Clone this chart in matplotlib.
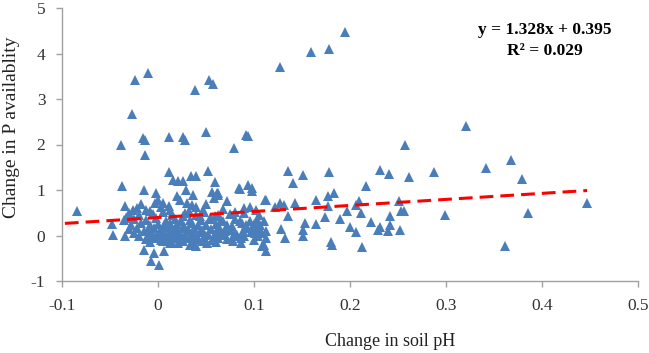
import matplotlib
matplotlib.use('Agg')
import matplotlib.pyplot as plt

plt.rcParams['font.family'] = ['Liberation Serif', 'DejaVu Serif']
plt.rcParams['axes.unicode_minus'] = False

# scattered points away from the dense cluster
outer_x = [-0.084, -0.039, -0.027, -0.024, -0.010, -0.016, -0.014, -0.014, 0.011, 0.026,
           0.028, 0.039, 0.050, 0.053, 0.057, 0.079, 0.092, 0.094, 0.127, 0.159,
           0.178, 0.195, 0.321, 0.257, 0.368, 0.342, 0.231, 0.241, 0.261, 0.287,
           0.178, 0.379, 0.135, 0.151, 0.011, 0.052, 0.016, 0.021, 0.026, 0.034,
           0.040, 0.059, 0.141, 0.217, -0.037, -0.015, 0.085, 0.094, 0.098, 0.056,
           0.063, 0.177, 0.183, 0.072, 0.112, 0.165, 0.209, 0.251, 0.096, 0.122,
           0.127, 0.131, 0.143, 0.177, 0.206, 0.197, 0.211, 0.253, 0.256, 0.135,
           0.174, 0.190, 0.242, 0.299, 0.385, 0.447, 0.153, 0.165, 0.222, 0.242,
           0.128, 0.151, 0.200, 0.231, 0.229, 0.240, 0.252, 0.206, 0.132, 0.151,
           0.180, 0.181, 0.212, 0.361, 0.112, 0.108, 0.113, 0.086]
outer_y = [0.53, 2.00, 2.67, 3.41, 3.57, 2.15, 2.10, 1.77, 2.17, 2.17,
           2.10, 3.20, 2.28, 3.41, 3.33, 1.92, 2.21, 2.18, 3.71, 4.04,
           4.10, 4.47, 2.40, 1.98, 1.66, 1.48, 1.45, 1.35, 1.29, 1.39,
           1.40, 1.25, 1.41, 1.32, 1.39, 1.42, 1.22, 1.20, 1.19, 1.30,
           1.31, 1.17, 1.15, 1.08, 1.08, 0.99, 1.02, 1.11, 1.04, 0.95,
           0.93, 0.86, 0.93, 0.75, 0.78, 0.77, 0.75, 0.75, 0.62, 0.62,
           0.71, 0.67, 0.71, 0.64, 0.67, 0.53, 0.49, 0.54, 0.54, 0.42,
           0.40, 0.37, 0.43, 0.45, 0.49, 0.71, 0.27, 0.26, 0.29, 0.24,
           0.14, 0.13, 0.18, 0.18, 0.12, 0.09, 0.12, 0.07, -0.06, -0.02,
           -0.15, -0.20, -0.25, -0.22, -0.06, -0.24, -0.35, -0.17]

# points around the edge of the cluster
edge_x = [-0.048, -0.047, -0.034, -0.015, -0.007, 0.001, -0.004, 0.006, -0.002, 0.000,
          -0.003, 0.020, 0.023, 0.029, 0.036, 0.035, 0.061, 0.058, 0.063, 0.084,
          0.098, 0.111, -0.033, -0.026, -0.022, -0.012, -0.008, 0.011, 0.013, 0.032,
          0.026, 0.044, 0.054, 0.059, -0.033, -0.034, 0.021, 0.013, 0.033, 0.040,
          0.051, 0.063, 0.110, 0.103, 0.106, 0.110, 0.098, 0.101, 0.113, 0.085,
          0.092, 0.089, 0.082, 0.077, 0.068, 0.070, 0.061, 0.003, 0.040, 0.047,
          0.068, 0.080, 0.005, 0.030, 0.050, 0.090, -0.018, 0.102]
edge_y = [0.26, 0.02, 0.65, -0.31, -0.57, -0.64, -0.39, -0.34, 0.93, 0.78,
          0.71, 0.86, 0.78, 1.00, 0.89, 0.66, 0.93, 0.82, 0.88, 1.04,
          0.98, 0.78, 0.38, 0.56, 0.60, 0.56, 0.53, 0.64, 0.56, 0.53,
          0.42, 0.42, 0.38, 0.42, 0.38, 0.00, -0.17, -0.17, -0.20, -0.24,
          -0.17, -0.06, -0.20, 0.35, 0.24, 0.31, 0.16, 0.05, 0.09, 0.31,
          0.24, 0.09, 0.02, 0.20, 0.31, 0.02, 0.13, 0.62, 0.62, 0.57,
          0.58, 0.52, 0.72, 0.72, 0.70, 0.60, 0.70, 0.55]

# dense core near zero change in pH
core_x = [-0.030, -0.020, -0.005, 0.005, 0.015, 0.028, 0.040, 0.048, 0.062, 0.075, 0.090, 0.105,
          -0.035, -0.025, -0.012, -0.002, 0.008, 0.018, 0.024, 0.033, 0.045, 0.055, 0.066, 0.080, 0.096,
          -0.028, -0.018, -0.008, 0.000, 0.006, 0.012, 0.020, 0.027, 0.035, 0.042, 0.050, 0.060, 0.072, 0.088, 0.100,
          -0.030, -0.022, -0.010, -0.004, 0.003, 0.009, 0.014, 0.020, 0.026, 0.031, 0.038, 0.046, 0.055, 0.064, 0.075, 0.092, 0.104,
          -0.025, -0.015, -0.006, 0.001, 0.007, 0.012, 0.017, 0.023, 0.030, 0.036, 0.044, 0.052, 0.060, 0.070, 0.080, 0.097, 0.108,
          -0.020, -0.010, -0.002, 0.004, 0.010, 0.016, 0.022, 0.028, 0.034, 0.041, 0.049, 0.058, 0.066, 0.078, 0.090, 0.104,
          -0.012, -0.004, 0.003, 0.010, 0.018, 0.025, 0.032, 0.040, 0.048, 0.056, 0.072, 0.086, 0.100,
          -0.008, 0.005, 0.015, 0.026, 0.036, 0.046, 0.060, 0.078]
core_y = [0.50, 0.44, 0.47, 0.52, 0.45, 0.49, 0.46, 0.51, 0.44, 0.48, 0.50, 0.46,
          0.33, 0.37, 0.34, 0.38, 0.32, 0.36, 0.31, 0.35, 0.33, 0.37, 0.34, 0.36, 0.32,
          0.24, 0.27, 0.22, 0.26, 0.23, 0.28, 0.25, 0.21, 0.27, 0.24, 0.22, 0.26, 0.23, 0.27, 0.25,
          0.14, 0.17, 0.13, 0.16, 0.12, 0.18, 0.15, 0.11, 0.17, 0.14, 0.16, 0.12, 0.15, 0.18, 0.13, 0.16, 0.14,
          0.06, 0.09, 0.05, 0.08, 0.04, 0.10, 0.07, 0.05, 0.09, 0.06, 0.08, 0.04, 0.07, 0.09, 0.05, 0.08, 0.06,
          -0.01, 0.02, -0.03, 0.01, -0.02, 0.03, 0.00, -0.04, 0.02, -0.01, 0.01, -0.03, 0.02, -0.02, 0.00, -0.01,
          -0.08, -0.06, -0.10, -0.07, -0.05, -0.09, -0.06, -0.08, -0.05, -0.10, -0.07, -0.06, -0.09,
          -0.14, -0.12, -0.16, -0.13, -0.15, -0.12, -0.14, -0.13]

# linear trend
slope, intercept = 1.328, 0.395
trend_x = [-0.097, 0.447]

x_all = outer_x + edge_x + core_x
y_all = outer_y + edge_y + core_y

fig = plt.figure(figsize=(6.49, 3.53), dpi=100)
ax = fig.add_axes([62 / 649, 1 - 281 / 353, 576 / 649, 273 / 353])

ax.plot(x_all, y_all, linestyle='none', marker='^', markersize=7.6,
        color='#4a7ebb', markeredgewidth=0)
ax.plot(trend_x, [slope * v + intercept for v in trend_x], color='#ff0000',
        linewidth=2.2, linestyle=(0, (4.5, 2.3)))

ax.set_xlim(-0.1, 0.5)
ax.set_ylim(-1, 5)
ax.set_xticks([-0.1, 0, 0.1, 0.2, 0.3, 0.4, 0.5])
ax.set_xticklabels(['-0.1', '0', '0.1', '0.2', '0.3', '0.4', '0.5'])
ax.set_yticks([-1, 0, 1, 2, 3, 4, 5])
ax.tick_params(direction='out', length=4, width=1, color='#a0a0a0',
               labelsize=12.5, labelcolor='#333333', pad=8)
for side in ['top', 'right']:
    ax.spines[side].set_visible(False)
for side in ['left', 'bottom']:
    ax.spines[side].set_color('#a0a0a0')
    ax.spines[side].set_linewidth(1)

fig.text(390 / 649, 1 - 342 / 353, 'Change in soil pH', ha='center', va='center',
         fontsize=13, color='#222222')
fig.text(12 / 649, 1 - 127 / 353, 'Change in P availablity', ha='center', va='center',
         rotation=90, fontsize=14, color='#222222')
fig.text(545 / 649, 1 - 30 / 353, 'y = 1.328x + 0.395', ha='center', va='center',
         fontsize=12.5, fontweight='bold')
fig.text(545 / 649, 1 - 51 / 353, 'R² = 0.029', ha='center', va='center',
         fontsize=12.5, fontweight='bold')

fig.savefig('out.png', dpi=100)
